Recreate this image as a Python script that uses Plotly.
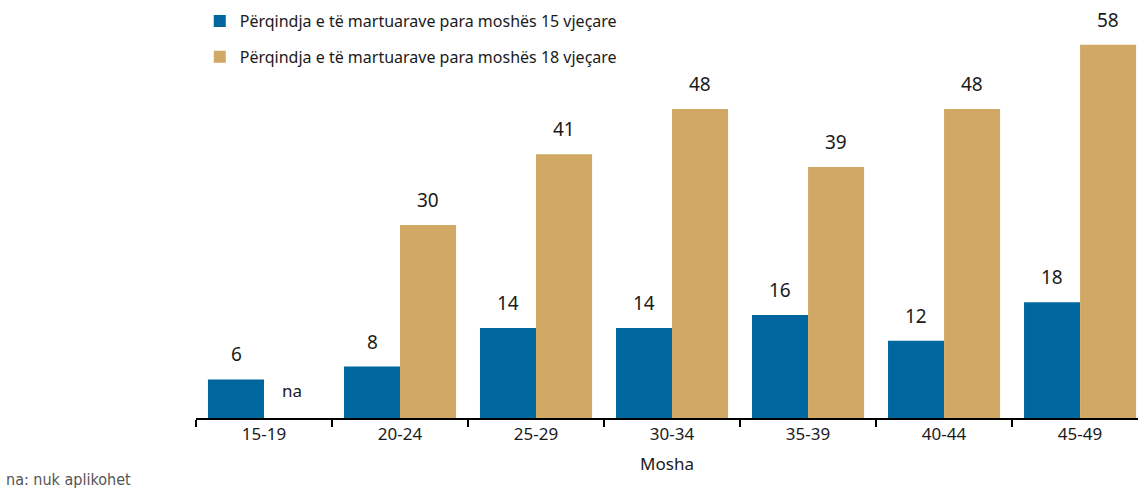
import plotly.graph_objects as go

categories = ["15-19", "20-24", "25-29", "30-34", "35-39", "40-44", "45-49"]
under15 = [6, 8, 14, 14, 16, 12, 18]
under18 = [None, 30, 41, 48, 39, 48, 58]
series_names = ["Përqindja e të martuarave para moshës 15 vjeçare",
                "Përqindja e të martuarave para moshës 18 vjeçare"]
na_text = "na"
footnote = "na: nuk aplikohet"
x_title = "Mosha"

BLUE = "#00679e"
GOLD = "#d1a965"
FONT = "Noto Sans"
TXT = "#1a1a1a"

fig = go.Figure()
fig.add_trace(go.Bar(x=categories, y=under15, name=series_names[0],
                     marker=dict(color=BLUE, line=dict(width=0)),
                     legend="legend"))
fig.add_trace(go.Bar(x=categories, y=under18, name=series_names[1],
                     marker=dict(color=GOLD, line=dict(width=0)),
                     legend="legend2"))

annotations = []
BAR_OFFSET = 28
for cat, v in zip(categories, under15):
    annotations.append(dict(x=cat, y=v, xref="x", yref="y", text=str(v),
                            showarrow=False, xshift=-BAR_OFFSET, yshift=10,
                            yanchor="bottom", font=dict(size=19, color=TXT, family=FONT)))
for cat, v in zip(categories, under18):
    if v is None:
        annotations.append(dict(x=cat, y=0, xref="x", yref="y", text=na_text,
                                showarrow=False, xshift=BAR_OFFSET, yshift=14,
                                yanchor="bottom", font=dict(size=17, color=TXT, family=FONT)))
    else:
        annotations.append(dict(x=cat, y=v, xref="x", yref="y", text=str(v),
                                showarrow=False, xshift=BAR_OFFSET, yshift=10,
                                yanchor="bottom", font=dict(size=19, color=TXT, family=FONT)))
annotations.append(dict(x=0, y=0, xref="paper", yref="paper", text=footnote,
                        showarrow=False, xanchor="left", yanchor="bottom",
                        font=dict(size=16, color="#555555",
                                  family="Liberation Sans Narrow, DejaVu Sans Condensed"),
                        xshift=-192, yshift=-73))

fig.update_layout(
    width=1138, height=489,
    margin=dict(l=196, r=0, t=10, b=71),
    paper_bgcolor="white", plot_bgcolor="white",
    barmode="group", bargap=0.176, bargroupgap=0,
    font=dict(family=FONT, size=16, color=TXT),
    showlegend=True,
    legend=dict(x=0.004, y=0.973, xanchor="left", yanchor="middle",
                font=dict(size=16, family=FONT, color=TXT),
                itemwidth=30, bgcolor="rgba(0,0,0,0)"),
    legend2=dict(x=0.004, y=0.885, xanchor="left", yanchor="middle",
                 font=dict(size=16, family=FONT, color=TXT),
                 itemwidth=30, bgcolor="rgba(0,0,0,0)"),
    xaxis=dict(range=[-0.5, 6.426], showline=True, linecolor="black", linewidth=2,
               ticks="outside", tickson="boundaries", ticklen=7, tickwidth=2,
               tickcolor="black", showgrid=False, automargin=False,
               tickfont=dict(size=17, family=FONT, color=TXT),
               title=dict(text=x_title, standoff=14,
                          font=dict(size=17, family=FONT, color=TXT))),
    yaxis=dict(range=[0, 63.4], visible=False, showgrid=False, zeroline=False),
    annotations=annotations,
)

fig.write_html("out.html", config={"displayModeBar": False},
               post_script="document.body.style.margin='0';document.body.style.overflow='hidden';")
